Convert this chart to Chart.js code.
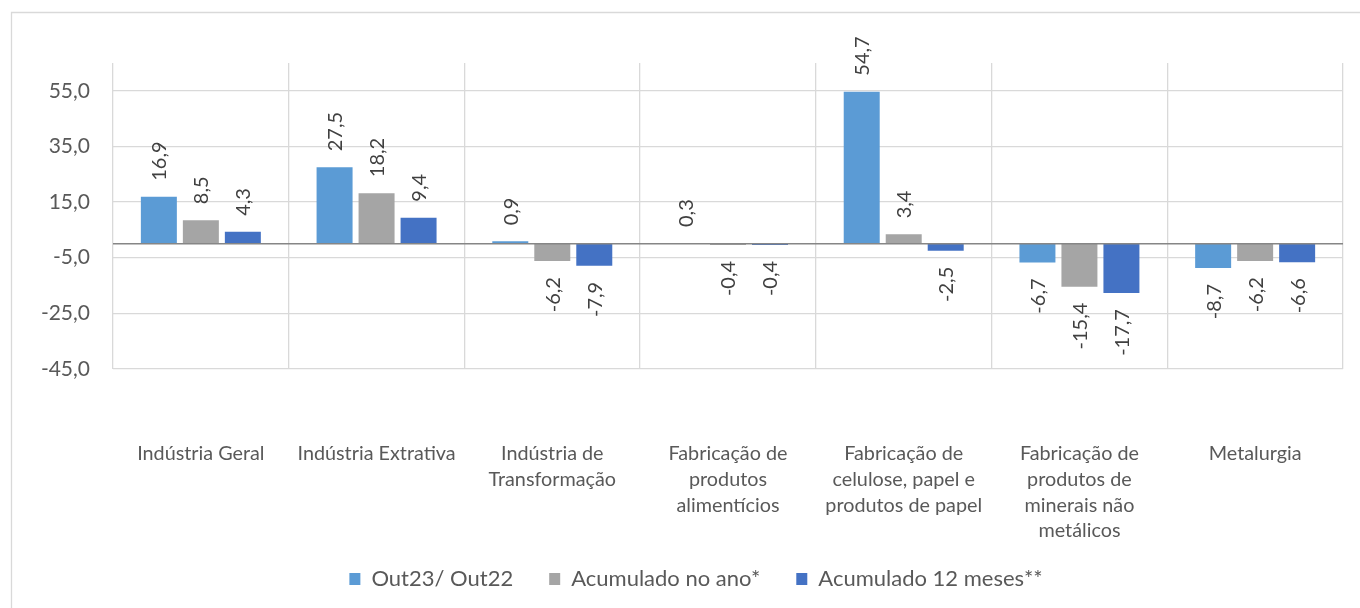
<!DOCTYPE html>
<html>
<head>
<meta charset="utf-8">
<script src="https://cdn.jsdelivr.net/npm/chart.js@4/dist/chart.umd.min.js"></script>
<style>
html,body{margin:0;padding:0;background:#fff;}
#wrap{width:1360px;height:608px;position:relative;}
</style>
</head>
<body>
<div id="wrap"><canvas id="c" width="1360" height="608"></canvas></div>
<script>
// ---- data ----
const categories = [
  "Indústria Geral",
  "Indústria Extrativa",
  ["Indústria de", "Transformação"],
  ["Fabricação de", "produtos", "alimentícios"],
  ["Fabricação de", "celulose, papel e", "produtos de papel"],
  ["Fabricação de", "produtos de", "minerais não", "metálicos"],
  "Metalurgia"
];
const seriesNames = ["Out23/ Out22", "Acumulado no ano*", "Acumulado 12 meses**"];
const out23 = [16.9, 27.5, 0.9, 0.3, 54.7, -6.7, -8.7];
const acumAno = [8.5, 18.2, -6.2, -0.4, 3.4, -15.4, -6.2];
const acum12 = [4.3, 9.4, -7.9, -0.4, -2.5, -17.7, -6.6];
const yTickValues = [-45, -25, -5, 15, 35, 55];
const yMin = -45;
const yMax = 65;

const seriesColors = ["#5B9BD5", "#A5A5A5", "#4472C4"];
const FONT = "Lato, 'Liberation Sans', sans-serif";
const fmt = v => v.toFixed(1).replace('.', ',');

const decor = {
  id: 'decor',
  beforeDraw(chart) {
    // let the category labels run below the (short) x-axis box without clipping
    chart.scales.x._computeLabelArea = () => undefined;
    const ctx = chart.ctx;
    ctx.save();
    ctx.strokeStyle = '#D9D9D9';
    ctx.lineWidth = 1.3;
    ctx.beginPath();
    ctx.moveTo(11.5, 608);
    ctx.lineTo(11.5, 12.5);
    ctx.lineTo(1360, 12.5);
    ctx.stroke();
    ctx.restore();
  },
  afterDatasetsDraw(chart) {
    const ctx = chart.ctx;
    const y = chart.scales.y;
    const area = chart.chartArea;
    const y0 = y.getPixelForValue(0);
    ctx.save();
    ctx.strokeStyle = '#868686';
    ctx.lineWidth = 1.6;
    ctx.beginPath();
    ctx.moveTo(area.left, y0);
    ctx.lineTo(area.right, y0);
    ctx.stroke();
    // data labels
    ctx.fillStyle = '#404040';
    ctx.font = "20px " + FONT;
    ctx.textBaseline = 'middle';
    const gap = 16;
    chart.data.datasets.forEach((ds, di) => {
      const meta = chart.getDatasetMeta(di);
      meta.data.forEach((bar, i) => {
        const v = ds.data[i];
        ctx.save();
        if (v >= 0) {
          ctx.translate(bar.x, bar.y - gap);
          ctx.rotate(-Math.PI / 2);
          ctx.textAlign = 'left';
        } else {
          ctx.translate(bar.x, bar.y + gap);
          ctx.rotate(-Math.PI / 2);
          ctx.textAlign = 'right';
        }
        ctx.fillText(fmt(v), 0, 1);
        ctx.restore();
      });
    });
    ctx.restore();
  }
};

new Chart(document.getElementById('c'), {
  type: 'bar',
  data: {
    labels: categories,
    datasets: [
      { label: seriesNames[0], data: out23, backgroundColor: seriesColors[0] },
      { label: seriesNames[1], data: acumAno, backgroundColor: seriesColors[1] },
      { label: seriesNames[2], data: acum12, backgroundColor: seriesColors[2] }
    ]
  },
  options: {
    responsive: false,
    devicePixelRatio: 1,
    animation: false,
    categoryPercentage: 0.717,
    barPercentage: 0.857,
    layout: { padding: { top: 63, right: 0, left: 32, bottom: 8 } },
    plugins: {
      legend: {
        position: 'bottom',
        labels: {
          font: { family: FONT, size: 22 },
          color: '#595959',
          boxWidth: 11,
          boxHeight: 12,
          padding: 36
        }
      },
      tooltip: { enabled: false }
    },
    scales: {
      x: {
        grid: { color: '#D9D9D9', lineWidth: 1.3, drawTicks: true, tickLength: 72, tickColor: 'rgba(0,0,0,0)', offset: true },
        border: { display: false },
        ticks: {
          font: { family: FONT, size: 19.8, lineHeight: 1.3 },
          color: '#595959',
          padding: 0,
          autoSkip: false,
          maxRotation: 0,
          minRotation: 0
        },
        afterFit(scale) { scale.height = 163; }
      },
      y: {
        min: yMin,
        max: yMax,
        grid: { color: '#D9D9D9', lineWidth: 1.3, drawTicks: false },
        border: { display: false },
        ticks: {
          font: { family: FONT, size: 21 },
          color: '#595959',
          padding: 23,
          callback: v => fmt(v)
        },
        afterBuildTicks(scale) { scale.ticks = yTickValues.map(v => ({ value: v })); },
        afterFit(scale) { scale.width = 81; }
      },
      yR: {
        type: 'linear',
        position: 'right',
        display: true,
        grid: { display: false, drawTicks: false },
        border: { display: false },
        ticks: { display: false },
        afterFit(scale) { scale.width = 17; }
      }
    }
  },
  plugins: [decor]
});
</script>
</body>
</html>
